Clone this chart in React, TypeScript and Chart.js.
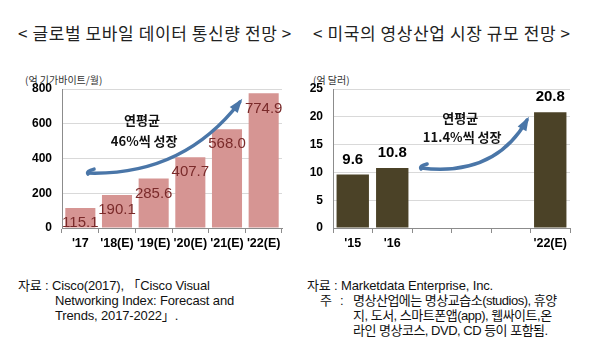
import React, { useEffect, useRef } from "react";
import Chart from "chart.js/auto";

const leftCategories = ["'17", "'18(E)", "'19(E)", "'20(E)", "'21(E)", "'22(E)"];
const leftValues = [115.1, 190.1, 285.6, 407.7, 568.0, 774.9];
const leftTicks = [0, 200, 400, 600, 800];

const rightCategories = ["'15", "'16", "", "", "", "'22(E)"];
const rightValues: (number | null)[] = [9.6, 10.8, null, null, null, 20.8];
const rightTicks = [0, 5, 10, 15, 20, 25];

const leftTitle = "< 글로벌 모바일 데이터 통신량 전망 >";
const rightTitle = "< 미국의 영상산업 시장 규모 전망 >";
const leftUnit = "(억 기가바이트/월)";
const rightUnit = "(억 달러)";
const leftNote = ["연평균", "46%씩 성장"];
const rightNote = ["연평균", "11.4%씩 성장"];

const SANS = "'Liberation Sans', 'Noto Sans CJK KR', sans-serif";
const KR = "'Noto Sans CJK KR', sans-serif";

type ArrowSpec = {
  start: [number, number];
  ctrl: [number, number];
  end: [number, number];
  text1: [number, number];
  text2: [number, number];
};

function makePlugins(
  labelMode: "inside" | "above",
  labelColor: string,
  labelFont: string,
  note: string[],
  arrow: ArrowSpec
) {
  return {
    id: "custom",
    afterDatasetsDraw(chart: any) {
      const ctx = chart.ctx;
      const meta = chart.getDatasetMeta(0);
      const data = chart.data.datasets[0].data;
      ctx.save();
      ctx.font = labelFont;
      ctx.fillStyle = labelColor;
      ctx.textAlign = "center";
      ctx.textBaseline = "middle";
      meta.data.forEach((bar: any, i: number) => {
        const v = data[i];
        if (v == null) return;
        const txt = Number(v).toFixed(1);
        const y = labelMode === "inside" ? bar.y + 15 : bar.y - 15;
        ctx.fillText(txt, bar.x, y);
      });
      const xs = chart.scales.x;
      const ys = chart.scales.y;
      const P = (p: [number, number]) => [xs.getPixelForValue(p[0]), ys.getPixelForValue(p[1])];
      const [sx, sy] = P(arrow.start);
      const [cx, cy] = P(arrow.ctrl);
      const [ex, ey] = P(arrow.end);
      ctx.strokeStyle = "#4a76a8";
      ctx.fillStyle = "#4a76a8";
      ctx.lineCap = "round";
      ctx.lineWidth = 3.5;
      ctx.beginPath();
      ctx.moveTo(sx + 6, sy - 4);
      ctx.quadraticCurveTo(sx - 2, sy - 2, sx, sy + 1);
      ctx.stroke();
      ctx.beginPath();
      ctx.moveTo(sx, sy);
      ctx.quadraticCurveTo(cx, cy, ex, ey);
      ctx.stroke();
      const ang = Math.atan2(ey - cy, ex - cx);
      const L = 10;
      const W = 5;
      ctx.beginPath();
      ctx.moveTo(ex + Math.cos(ang) * 4, ey + Math.sin(ang) * 4);
      ctx.lineTo(ex - Math.cos(ang) * L + Math.sin(ang) * W, ey - Math.sin(ang) * L - Math.cos(ang) * W);
      ctx.lineTo(ex - Math.cos(ang) * L - Math.sin(ang) * W, ey - Math.sin(ang) * L + Math.cos(ang) * W);
      ctx.closePath();
      ctx.fill();
      ctx.fillStyle = "#111";
      ctx.font = `bold 13px ${KR}`;
      const [t1x, t1y] = P(arrow.text1);
      const [t2x, t2y] = P(arrow.text2);
      ctx.fillText(note[0], t1x, t1y);
      ctx.fillText(note[1], t2x, t2y);
      ctx.restore();
    },
  };
}

function makeOptions(min: number, max: number, step: number, yWidth: number, padding: any) {
  const tickFont = { family: "'Liberation Sans', sans-serif", weight: "bold" as const, size: 12 };
  return {
    responsive: false,
    animation: false as const,
    layout: { padding },
    plugins: { legend: { display: false }, tooltip: { enabled: false }, title: { display: false } },
    scales: {
      x: {
        type: "category" as const,
        offset: true,
        grid: {
          display: true,
          drawOnChartArea: false,
          drawTicks: true,
          tickLength: 5,
          color: "#8c8c8c",
          offset: true,
        },
        border: { display: true, color: "#8c8c8c" },
        ticks: { font: { ...tickFont, size: 12.5 }, color: "#000", padding: 3, maxRotation: 0, autoSkip: false },
        afterFit: (s: any) => {
          s.height = 25;
        },
      },
      y: {
        min,
        max,
        ticks: { stepSize: step, font: tickFont, color: "#000", padding: 10 },
        grid: { color: "#d9d9d9", drawTicks: false },
        border: { display: true, color: "#8c8c8c" },
        afterFit: (s: any) => {
          s.width = yWidth;
        },
      },
    },
  };
}

function BarChart(props: {
  categories: string[];
  values: (number | null)[];
  ticks: number[];
  color: string;
  yWidth: number;
  padding: any;
  labelMode: "inside" | "above";
  labelColor: string;
  labelFont: string;
  note: string[];
  arrow: ArrowSpec;
  left: number;
}) {
  const ref = useRef<HTMLCanvasElement>(null);
  useEffect(() => {
    if (!ref.current) return;
    const t = props.ticks;
    const chart = new Chart(ref.current, {
      type: "bar",
      data: {
        labels: props.categories,
        datasets: [
          {
            data: props.values as any,
            backgroundColor: props.color,
            borderWidth: 0,
            barPercentage: 0.82,
            categoryPercentage: 1.0,
          },
        ],
      },
      options: makeOptions(t[0], t[t.length - 1], t[1] - t[0], props.yWidth, props.padding) as any,
      plugins: [makePlugins(props.labelMode, props.labelColor, props.labelFont, props.note, props.arrow)],
    });
    return () => chart.destroy();
  }, []);
  return (
    <canvas
      ref={ref}
      width={300}
      height={260}
      style={{ position: "absolute", left: props.left, top: 0, width: 300, height: 260 }}
    />
  );
}

const abs = (left: number, top: number, extra: any = {}) => ({
  position: "absolute" as const,
  left,
  top,
  whiteSpace: "nowrap" as const,
  ...extra,
});

export default function App() {
  const titleStyle = { fontFamily: KR, fontSize: 17, color: "#222", lineHeight: "20px", letterSpacing: "0.6px" };
  const unitStyle = { fontFamily: KR, fontSize: 10, color: "#333", lineHeight: "14px" };
  const noteStyle = {
    fontFamily: SANS,
    fontSize: 13,
    color: "#111",
    lineHeight: "15px",
    letterSpacing: "-0.5px",
  };
  const noteStyleLatin = { ...noteStyle, letterSpacing: "-0.15px" };
  return (
    <div style={{ position: "absolute", left: 0, top: 0, width: 600, height: 356, background: "#fff", overflow: "hidden" }}>
      <div style={abs(18, 23, titleStyle)}>{leftTitle}</div>
      <div style={abs(313, 23, titleStyle)}>{rightTitle}</div>
      <div style={abs(25, 73, unitStyle)}>{leftUnit}</div>
      <div style={abs(313, 73, unitStyle)}>{rightUnit}</div>
      <BarChart
        categories={leftCategories}
        values={leftValues}
        ticks={leftTicks}
        color="#d69593"
        yWidth={40}
        padding={{ left: 22, top: 89, right: 18, bottom: 7 }}
        labelMode="inside"
        labelColor="#7a2a2a"
        labelFont={`15px ${SANS}`}
        note={leftNote}
        arrow={{ start: [0.21, 316], ctrl: [2.8, 300], end: [4.35, 725], text1: [1.68, 622], text2: [1.74, 500] }}
        left={0}
      />
      <BarChart
        categories={rightCategories}
        values={rightValues}
        ticks={rightTicks}
        color="#4b4227"
        yWidth={25}
        padding={{ left: 8, top: 89, right: 30, bottom: 7 }}
        labelMode="above"
        labelColor="#000"
        labelFont={`bold 15px ${SANS}`}
        note={rightNote}
        arrow={{ start: [1.73, 10.8], ctrl: [3.6, 9.2], end: [4.41, 19.4], text1: [2.72, 19.8], text2: [2.77, 16.4] }}
        left={300}
      />
      <div style={abs(18, 278, noteStyleLatin)}>자료 : Cisco(2017), 「Cisco Visual</div>
      <div style={abs(55, 293, noteStyleLatin)}>Networking Index: Forecast and</div>
      <div style={abs(55, 308, noteStyleLatin)}>Trends, 2017-2022」.</div>
      <div style={abs(307, 278, noteStyleLatin)}>자료 : Marketdata Enterprise, Inc.</div>
      <div style={abs(320, 293, noteStyle)}>주</div>
      <div style={abs(340, 293, noteStyle)}>:</div>
      <div style={abs(353, 293, noteStyle)}>명상산업에는 명상교습소(studios), 휴양</div>
      <div style={abs(353, 308, noteStyle)}>지, 도서, 스마트폰앱(app), 웹싸이트,온</div>
      <div style={abs(353, 323, noteStyle)}>라인 명상코스, DVD, CD 등이 포함됨.</div>
    </div>
  );
}
